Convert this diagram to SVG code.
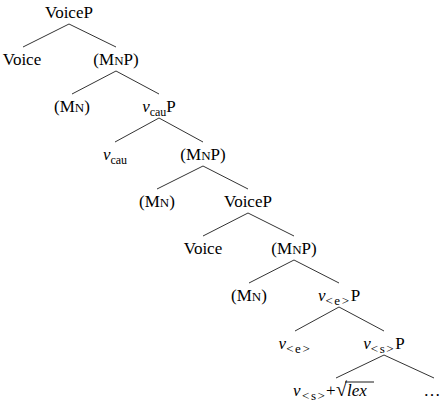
<svg xmlns="http://www.w3.org/2000/svg" width="445" height="407" viewBox="0 0 445 407">
<style>
text { font-family: "Liberation Serif", "Times New Roman", serif; font-size: 17px; fill: #000; text-anchor: middle; }
.sc { font-size: 13px; }
.sub { font-size: 12px; }
.ang { font-size: 13px; letter-spacing: 1.6px; }
.it { font-style: italic; }
#edges line { stroke: #333; stroke-width: 1; }
</style>
<rect width="445" height="407" fill="#fff"/>
<g id="edges">
<line x1="69" y1="24" x2="23" y2="47"/><line x1="69" y1="24" x2="116" y2="47"/>
<line x1="116" y1="71" x2="72" y2="94"/><line x1="116" y1="71" x2="159" y2="94"/>
<line x1="159" y1="118" x2="115" y2="142"/><line x1="159" y1="118" x2="203" y2="142"/>
<line x1="203" y1="166" x2="157" y2="189"/><line x1="203" y1="166" x2="248" y2="189"/>
<line x1="248" y1="213" x2="203" y2="236"/><line x1="248" y1="213" x2="294" y2="236"/>
<line x1="294" y1="260" x2="249" y2="283"/><line x1="294" y1="260" x2="339" y2="283"/>
<line x1="339" y1="307" x2="295" y2="331"/><line x1="339" y1="307" x2="384" y2="331"/>
<line x1="384" y1="355" x2="336" y2="378"/><line x1="384" y1="355" x2="434" y2="378"/>
</g>
<g id="n0"><text x="69" y="18">VoiceP</text></g>
<g id="n1"><text x="22" y="65">Voice</text></g>
<g id="n2"><text x="116" y="65">(M<tspan class="sc">N</tspan>P)</text></g>
<g id="n3"><text x="72" y="112">(M<tspan class="sc">N</tspan>)</text></g>
<g id="n4"><text x="159" y="112"><tspan class="it">v</tspan><tspan class="sub" dy="4">cau</tspan><tspan dy="-4">P</tspan></text></g>
<g id="n5"><text x="115" y="160"><tspan class="it">v</tspan><tspan class="sub" dy="4">cau</tspan></text></g>
<g id="n6"><text x="203" y="160">(M<tspan class="sc">N</tspan>P)</text></g>
<g id="n7"><text x="157" y="207">(M<tspan class="sc">N</tspan>)</text></g>
<g id="n8"><text x="248" y="207">VoiceP</text></g>
<g id="n9"><text x="203" y="254">Voice</text></g>
<g id="n10"><text x="294" y="254">(M<tspan class="sc">N</tspan>P)</text></g>
<g id="n11"><text x="249" y="301">(M<tspan class="sc">N</tspan>)</text></g>
<g id="n12"><text x="339" y="301"><tspan class="it">v</tspan><tspan class="ang" dy="4">&lt;e&gt;</tspan><tspan dy="-4">P</tspan></text></g>
<g id="n13"><text x="295" y="349"><tspan class="it">v</tspan><tspan class="ang" dy="4">&lt;e&gt;</tspan></text></g>
<g id="n14"><text x="384" y="349"><tspan class="it">v</tspan><tspan class="ang" dy="4">&lt;s&gt;</tspan><tspan dy="-4">P</tspan></text></g>
<g id="n15">
<text x="293" y="396" style="text-anchor:start"><tspan class="it">v</tspan><tspan class="ang" x="302" dy="4">&lt;s&gt;</tspan><tspan x="326" dy="-4">+</tspan><tspan x="336" style="font-size:20px">√</tspan><tspan class="it" x="347">lex</tspan></text>
<line x1="345" y1="382" x2="374" y2="382" stroke="#000" stroke-width="0.9"/>
</g>
<g id="n16"><text x="432" y="396">…</text></g>
</svg>
